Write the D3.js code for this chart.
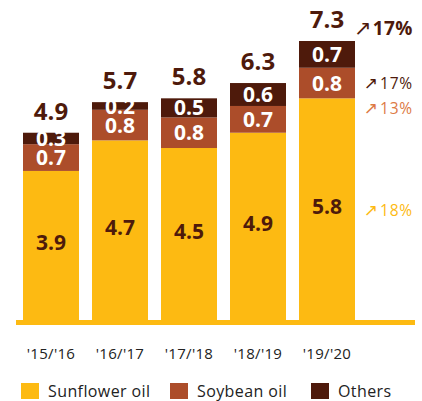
<!DOCTYPE html>
<html>
<head>
<meta charset="utf-8">
<script src="https://cdn.jsdelivr.net/npm/d3@7"></script>
<style>
  body { margin: 0; background: #fff; }
  svg { display: block; font-family: "Open Sans", sans-serif; }
</style>
</head>
<body>
<svg id="chart"></svg>
<script>
// Stacked bars: vegetable oil output by season, with growth notes on the right.

const seasons = ["'15/'16", "'16/'17", "'17/'18", "'18/'19", "'19/'20"];
const sunflower = [3.9, 4.7, 4.5, 4.9, 5.8];
const soybean = [0.7, 0.8, 0.8, 0.7, 0.8];
const others = [0.3, 0.2, 0.5, 0.6, 0.7];
const totals = [4.9, 5.7, 5.8, 6.3, 7.3];
const seriesNames = ["Sunflower oil", "Soybean oil", "Others"];
const growthLabels = ["17%", "17%", "13%", "18%"]; // total, others, soybean, sunflower

const W = 422, H = 401;
const COLORS = ["#FDBA12", "#AC4D2A", "#4E1A0B"];
const DARK = "#4E1A0B";

const svg = d3.select("#chart").attr("width", W).attr("height", H);

const x = d3.scaleBand()
  .domain(seasons)
  .range([16.5, 361.5])
  .paddingInner(13 / 69)
  .paddingOuter(6.5 / 69);

const y = d3.scaleLinear().domain([0, 7.3]).range([320, 41]);

const rows = seasons.map((s, i) => ({
  season: s, sunflower: sunflower[i], soybean: soybean[i], others: others[i], total: totals[i]
}));
const keys = ["sunflower", "soybean", "others"];
const stack = d3.stack().keys(keys)(rows);

//Bars
const layers = svg.selectAll(".layer").data(stack).join("g")
  .attr("class", "layer")
  .attr("fill", (d, i) => COLORS[i]);

layers.selectAll("rect").data(d => d).join("rect")
  .attr("x", d => x(d.data.season))
  .attr("y", d => y(d[1]))
  .attr("width", x.bandwidth())
  .attr("height", d => y(d[0]) - y(d[1]));

//Segment labels
stack.forEach((layer, li) => {
  svg.selectAll(".seg-" + li).data(layer).join("text")
    .attr("class", "seg-" + li)
    .attr("x", d => x(d.data.season) + x.bandwidth() / 2)
    .attr("y", d => li === 0 ? (y(d[0]) + y(d[1])) / 2 - 3 : (y(d[0]) + y(d[1])) / 2)
    .attr("dy", "0.36em")
    .attr("text-anchor", "middle")
    .attr("font-size", 21)
    .attr("font-weight", 700)
    .attr("fill", li === 0 ? DARK : "#fff")
    .text(d => d.data[keys[li]].toFixed(1));
});

//Totals on top
svg.selectAll(".total").data(rows).join("text")
  .attr("class", "total")
  .attr("x", d => x(d.season) + x.bandwidth() / 2)
  .attr("y", d => y(d.sunflower + d.soybean + d.others) - 13)
  .attr("text-anchor", "middle")
  .attr("font-size", 24)
  .attr("font-weight", 700)
  .attr("fill", DARK)
  .text(d => d.total.toFixed(1));

//Baseline
svg.append("rect")
  .attr("x", 16).attr("y", 320)
  .attr("width", 399).attr("height", 5)
  .attr("fill", COLORS[0]);

//X axis labels
const xAxis = svg.append("g")
  .attr("transform", "translate(0,345)")
  .call(d3.axisBottom(x).tickSize(0));
xAxis.select(".domain").remove();
xAxis.selectAll("text")
  .attr("font-family", "Open Sans, sans-serif")
  .attr("font-size", 15)
  .attr("letter-spacing", 0.3)
  .attr("fill", "#222");

//Growth notes
const notes = [
  { text: growthLabels[0], y: 29, color: DARK, bold: true },
  { text: growthLabels[1], y: 83, color: DARK, bold: false },
  { text: growthLabels[2], y: 108.5, color: "#DD7A45", bold: false },
  { text: growthLabels[3], y: 210, color: COLORS[0], bold: false }
];
const noteG = svg.selectAll(".note").data(notes).join("text")
  .attr("class", "note")
  .attr("x", 413)
  .attr("y", d => d.y)
  .attr("dy", "0.36em")
  .attr("text-anchor", "end")
  .attr("fill", d => d.color);
noteG.append("tspan")
  .attr("font-family", "DejaVu Sans, sans-serif")
  .attr("font-size", d => d.bold ? 21 : 17)
  .attr("font-weight", 400)
  .text("\u2197");
noteG.append("tspan")
  .attr("dx", d => d.bold ? 1 : 2)
  .attr("font-size", d => d.bold ? 19 : 15.5)
  .attr("font-weight", d => d.bold ? 700 : 400)
  .attr("letter-spacing", d => d.bold ? 0.5 : 0.8)
  .text(d => d.text);

//Legend
const legendX = [21, 170, 311];
const legend = svg.selectAll(".legend").data(seriesNames).join("g")
  .attr("class", "legend")
  .attr("transform", (d, i) => `translate(${legendX[i]},383)`);
legend.append("rect")
  .attr("width", 18).attr("height", 16)
  .attr("fill", (d, i) => COLORS[i]);
legend.append("text")
  .attr("x", 27).attr("y", 8)
  .attr("dy", "0.36em")
  .attr("font-size", 16)
  .attr("letter-spacing", 0.4)
  .attr("fill", "#222")
  .text(d => d);
</script>
</body>
</html>
